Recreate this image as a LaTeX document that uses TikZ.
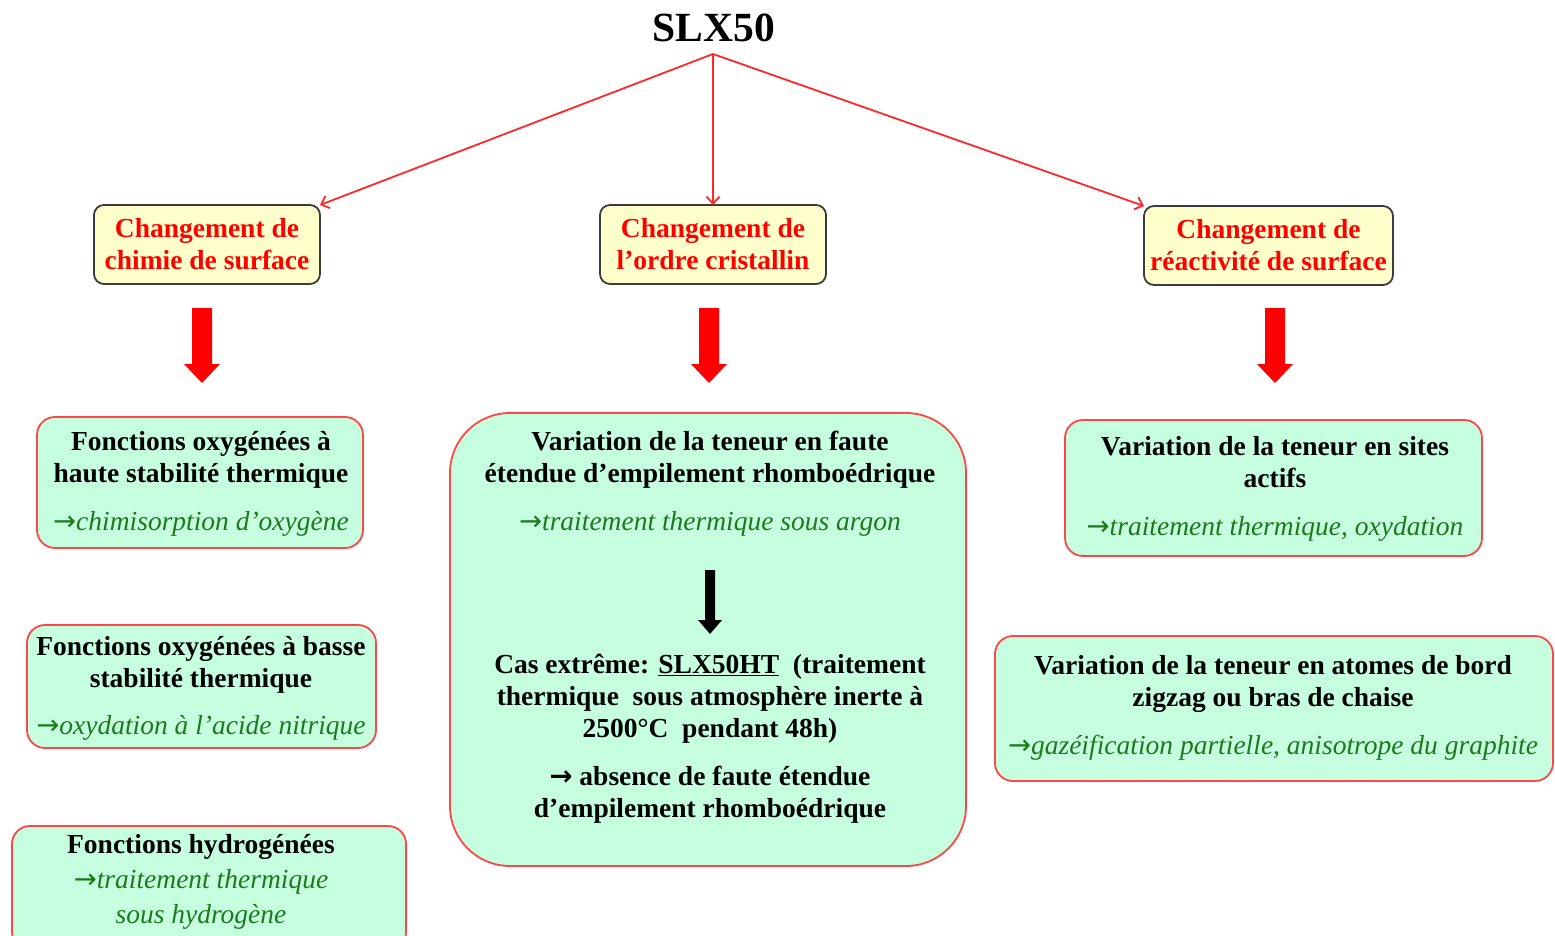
\documentclass[tikz,border=0pt]{standalone}
\usepackage{fontspec}
\setmainfont{Liberation Serif}
\newfontfamily\arrowfont{DejaVu Sans}
\usetikzlibrary{arrows.meta}
\definecolor{mint}{RGB}{198,255,224}
\definecolor{paleyellow}{RGB}{255,255,204}
\definecolor{boxred}{RGB}{255,70,70}
\definecolor{linered}{RGB}{255,40,40}
\definecolor{darkgreen}{RGB}{28,122,28}
\definecolor{edgegray}{RGB}{60,60,60}
\newcommand{\rarr}{{\arrowfont\upshape →}}
\newcommand{\greenit}[1]{{\mdseries\itshape\color{darkgreen}#1}}
\begin{document}
\begin{tikzpicture}[x=1pt,y=-1pt,
  every node/.style={inner sep=0pt, outer sep=0pt},
  txt/.style={font=\fontsize{27.5}{32}\selectfont\bfseries, align=center},
  cattxt/.style={txt, text=red},
  catbox/.style={draw=edgegray, line width=1.8pt, fill=paleyellow, rounded corners=10pt},
  resbox/.style={draw=boxred, line width=1.8pt, fill=mint, rounded corners=#1},
  resbox/.default=18pt,
  conn/.style={draw=linered, line width=1.8pt, -{Straight Barb[length=7pt,width=13pt]}},
  bigdown/.pic={\fill[red] (-10,0) -- (10,0) -- (10,56) -- (18,56) -- (0,75) -- (-18,56) -- (-10,56) -- cycle;},
  blackdown/.pic={\fill[black] (-5,0) -- (5,0) -- (5,50) -- (12,50) -- (0,64) -- (-12,50) -- (-5,50) -- cycle;}
]
\useasboundingbox (0,0) rectangle (1555,936);
\clip (0,0) rectangle (1555,936);

% title
\node[font=\fontsize{41.5}{48}\selectfont\bfseries] (title) at (714,28) {SLX50};
\coordinate (apex) at (713,54);

% category boxes
\node[catbox, cattxt, minimum width=226pt, minimum height=79pt] (y1) at (207,244.5) {Changement de\\chimie de surface};
\node[catbox, cattxt, minimum width=226pt, minimum height=79pt] (y2) at (713,244.5) {Changement de\\l’ordre cristallin};
\node[catbox, cattxt, minimum width=249pt, minimum height=79pt] (y3) at (1268.5,245.5) {Changement de\\réactivité de surface};

\draw[conn] (apex) -- (y1.north east);
\draw[conn] (apex) -- (y2.north);
\draw[conn] (apex) -- (y3.north west);

% big red arrows
\pic at (202,308) {bigdown};
\pic at (709,308) {bigdown};
\pic at (1275,308) {bigdown};

% left column
\node[resbox, minimum width=326pt, minimum height=131pt] (g1) at (200,482.5) {};
\node[txt] (g1t) at (201,484) {Fonctions oxygénées à\\haute stabilité thermique\\[16pt]\greenit{\rarr chimisorption d’oxygène}};

\node[resbox, minimum width=349pt, minimum height=123pt] (g2) at (201.5,686.5) {};
\node[txt] (g2t) at (201,688) {Fonctions oxygénées à basse\\stabilité thermique\\[15pt]\greenit{\rarr oxydation à l’acide nitrique}};

\node[resbox, minimum width=394pt, minimum height=124pt] (g3) at (209,888) {};
\node[txt, font=\fontsize{27.5}{35}\selectfont\bfseries] (g3t) at (201,882) {Fonctions hydrogénées\\\greenit{\rarr traitement thermique}\\\greenit{sous hydrogène}};

% center column
\node[resbox=60pt, minimum width=516pt, minimum height=453pt] (c) at (708,639.5) {};
\node[txt] (c1) at (710,484) {Variation de la teneur en faute\\étendue d’empilement rhomboédrique\\[16pt]\greenit{\rarr traitement thermique sous argon}};
\pic at (710,570) {blackdown};
\node[txt] (c2) at (710,699) {Cas extrême: \underline{SLX50HT}\ \ (traitement\\thermique\ \ sous atmosphère inerte à\\2500°C\ \ pendant 48h)};
\node[txt] (c3) at (710,795) {\rarr\ absence de faute étendue\\d’empilement rhomboédrique};

% right column
\node[resbox, minimum width=417pt, minimum height=136pt] (r1) at (1273.5,488) {};
\node[txt] (r1t) at (1275,489) {Variation de la teneur en sites\\actifs\\[16pt]\greenit{\rarr traitement thermique, oxydation}};

\node[resbox, minimum width=558pt, minimum height=145pt] (r2) at (1274,708.5) {};
\node[txt] (r2t) at (1273,707.5) {Variation de la teneur en atomes de bord\\zigzag ou bras de chaise\\[16pt]\greenit{\rarr gazéification partielle, anisotrope du graphite}};
\end{tikzpicture}
\end{document}
